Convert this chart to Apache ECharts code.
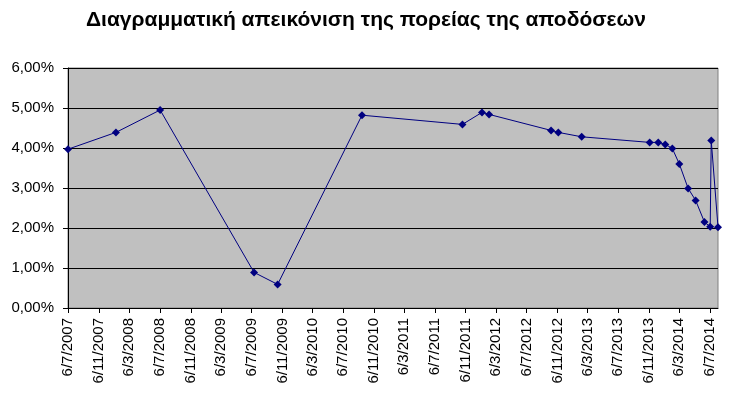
<!DOCTYPE html>
<html>
<head>
<meta charset="utf-8">
<script src="https://cdn.jsdelivr.net/npm/echarts@6/dist/echarts.min.js"></script>
<style>
html,body{margin:0;padding:0;background:#fff;}
#chart{width:732px;height:396px;}
</style>
</head>
<body>
<div id="chart"></div>
<script>
// Data
var titleText = 'Διαγραμματική απεικόνιση της πορείας της αποδόσεων';
var dates = ['2007-07-06','2008-01-13','2008-07-07','2009-07-16','2009-10-18','2010-09-19',
  '2011-10-24','2012-01-10','2012-02-07','2012-10-11','2012-11-09','2013-02-10',
  '2013-11-08','2013-12-12','2014-01-09','2014-02-06','2014-03-06','2014-04-10',
  '2014-05-10','2014-06-14','2014-07-07','2014-07-11','2014-08-07'];
var yields = [3.97,4.39,4.95,0.89,0.59,4.82,4.59,4.89,4.84,4.44,4.39,4.28,
  4.14,4.14,4.09,3.99,3.60,2.99,2.69,2.15,2.03,4.19,2.02];
var xTickLabels = ['6/7/2007','6/11/2007','6/3/2008','6/7/2008','6/11/2008','6/3/2009',
  '6/7/2009','6/11/2009','6/3/2010','6/7/2010','6/11/2010','6/3/2011','6/7/2011',
  '6/11/2011','6/3/2012','6/7/2012','6/11/2012','6/3/2013','6/7/2013','6/11/2013',
  '6/3/2014','6/7/2014'];

function isoToTs(s){var p=s.split('-');return Date.UTC(+p[0],+p[1]-1,+p[2]);}
function dmyToTs(s){var p=s.split('/');return Date.UTC(+p[2],+p[1]-1,+p[0]);}

var tickValues = xTickLabels.map(dmyToTs);
var labelMap = {};
xTickLabels.forEach(function(l,i){labelMap[tickValues[i]]=l;});
var seriesData = dates.map(function(d,i){return [isoToTs(d), yields[i]];});

var font = 'Liberation Sans, Arial, sans-serif';
var chart = echarts.init(document.getElementById('chart'), null, {renderer:'canvas'});
chart.setOption({
  animation:false,
  backgroundColor:'#ffffff',
  title:{
    text:titleText,
    left:'center',
    top:5,
    textStyle:{fontFamily:font,fontSize:21,fontWeight:'bold',color:'#000'}
  },
  grid:{
    left:68,right:14,top:68,bottom:88,
    show:true,backgroundColor:'#C0C0C0',borderColor:'#808080',borderWidth:1
  },
  xAxis:{
    type:'value',
    min:tickValues[0],
    max:seriesData[seriesData.length-1][0],
    axisLine:{show:true,onZero:false,lineStyle:{color:'#000',width:1}},
    axisTick:{show:true,length:5,customValues:tickValues,lineStyle:{color:'#000'}},
    splitLine:{show:false},
    axisLabel:{
      customValues:tickValues,
      rotate:90,
      margin:10,
      padding:[0,0,4,0],
      fontFamily:font,fontSize:15,color:'#000',
      formatter:function(v){return labelMap[v]||'';}
    }
  },
  yAxis:{
    type:'value',
    min:0,max:6,interval:1,
    axisLine:{show:true,lineStyle:{color:'#000',width:1}},
    axisTick:{show:true,length:5,lineStyle:{color:'#000'}},
    splitLine:{show:true,lineStyle:{color:'#000',width:1}},
    axisLabel:{
      margin:14,
      fontFamily:font,fontSize:15,color:'#000',
      formatter:function(v){return v.toFixed(2).replace('.',',')+'%';}
    }
  },
  series:[{
    type:'line',
    data:seriesData,
    symbol:'diamond',
    symbolSize:8,
    lineStyle:{color:'#000080',width:1},
    itemStyle:{color:'#000080'},
    z:5
  }]
});
</script>
</body>
</html>
